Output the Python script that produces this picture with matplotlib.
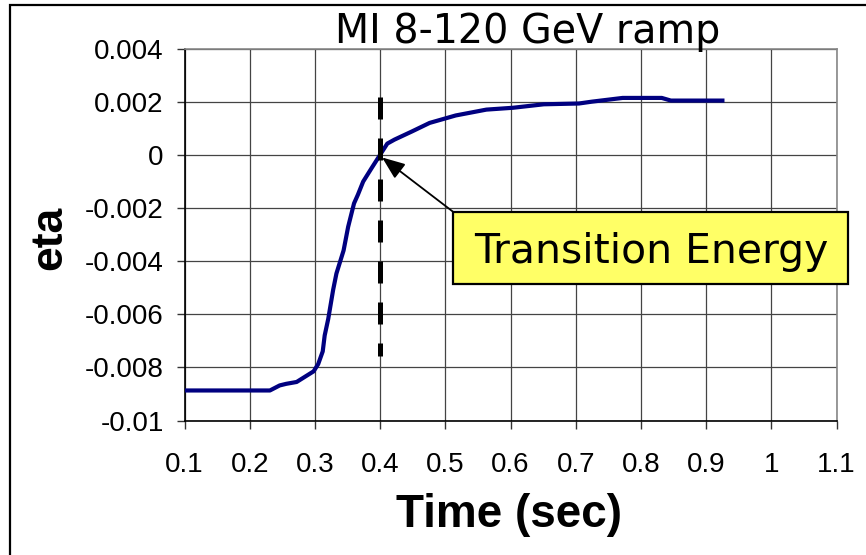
import matplotlib
matplotlib.use("Agg")
import matplotlib.pyplot as plt
from matplotlib.patches import Rectangle

# ---- data ----
time_sec = [0.100, 0.231, 0.246, 0.256, 0.272, 0.298, 0.305, 0.312, 0.315, 0.3205,
            0.328, 0.333, 0.344, 0.351, 0.360, 0.366, 0.374, 0.387, 0.400, 0.411,
            0.422, 0.449, 0.476, 0.516, 0.563, 0.604, 0.651, 0.705, 0.725, 0.772,
            0.832, 0.846, 0.925]
eta = [-0.00887, -0.00887, -0.00868, -0.00862, -0.00855, -0.00815, -0.00788, -0.0074, -0.0068, -0.00617,
       -0.00508, -0.00447, -0.0036, -0.00271, -0.00183, -0.0015, -0.00101, -0.0005, 0.0, 0.00042,
       0.00057, 0.00088, 0.0012, 0.00148, 0.0017, 0.00177, 0.0019, 0.00193, 0.0020, 0.00214,
       0.00214, 0.00204, 0.00204]

transition_time = 0.40
transition_line_eta = [0.00216, -0.00756]
arrow_tip = (0.403, -0.0001)

x_ticks = [0.1, 0.2, 0.3, 0.4, 0.5, 0.6, 0.7, 0.8, 0.9, 1.0, 1.1]
x_tick_labels = ['0.1', '0.2', '0.3', '0.4', '0.5', '0.6', '0.7', '0.8', '0.9', '1', '1.1']
y_ticks = [0.004, 0.002, 0.0, -0.002, -0.004, -0.006, -0.008, -0.01]
y_tick_labels = ['0.004', '0.002', '0', '-0.002', '-0.004', '-0.006', '-0.008', '-0.01']

title_text = 'MI 8-120 GeV ramp'
annot_text = 'Transition Energy'
x_label = 'Time (sec)'
y_label = 'eta'

# ---- figure ----
fig = plt.figure(figsize=(8.66, 5.55), dpi=100)
ax = fig.add_axes([184.5 / 866, 1 - 420.5 / 555, 652 / 866, 372 / 555])

ax.set_xlim(0.1, 1.1)
ax.set_ylim(-0.01, 0.004)
ax.set_xticks(x_ticks)
ax.set_xticklabels(x_tick_labels, fontfamily='Liberation Sans', fontsize=20)
ax.set_yticks(y_ticks)
ax.set_yticklabels(y_tick_labels, fontfamily='Liberation Sans', fontsize=20)
ax.tick_params(axis='both', direction='out', length=6, width=1, color='#333333')
ax.tick_params(axis='x', pad=17)
ax.tick_params(axis='y', pad=9)

ax.grid(True, color='#444444', linewidth=0.9)
ax.set_axisbelow(True)
for s in ['top', 'right']:
    ax.spines[s].set_color('#888888')
    ax.spines[s].set_linewidth(1.2)
for s in ['left', 'bottom']:
    ax.spines[s].set_color('black')
    ax.spines[s].set_linewidth(1.2)

# curve
ax.plot(time_sec, eta, color='#000080', linewidth=3.0, solid_joinstyle='round', zorder=3)

# transition dashed line
ax.plot([transition_time, transition_time], transition_line_eta, color='black',
        linewidth=3.6, linestyle=(0, (4.4, 3.8)), zorder=4)

# annotation box
box = Rectangle((0.412, 0.367), 0.606, 0.194, transform=ax.transAxes,
                facecolor='#FFFF66', edgecolor='black', linewidth=1.6,
                clip_on=False, zorder=5)
ax.add_patch(box)
ax.text(0.716, 0.424, annot_text, transform=ax.transAxes, ha='center', va='baseline',
        fontfamily='DejaVu Sans', fontsize=29.4, zorder=6)
ax.annotate('', xy=arrow_tip, xycoords='data',
            xytext=(0.412, 0.561), textcoords='axes fraction',
            arrowprops=dict(arrowstyle='-|>,head_length=1.4,head_width=0.55',
                            color='black', linewidth=1.3, shrinkA=0, shrinkB=0),
            zorder=6)

# title
ax.text(0.527, 1.014, title_text, transform=ax.transAxes, ha='center', va='baseline',
        fontfamily='DejaVu Sans', fontsize=28.5)

# axis labels
ax.set_xlabel(x_label, fontfamily='Liberation Sans', fontweight='bold', fontsize=33)
ax.xaxis.set_label_coords(0.498, -0.254)
ax.xaxis.label.set_verticalalignment('center')
ax.set_ylabel(y_label, fontfamily='Liberation Sans', fontweight='bold', fontsize=32)
ax.yaxis.set_label_coords(-0.206, 0.49)
ax.yaxis.label.set_verticalalignment('center')

# outer frame (left and top edges visible)
frame = Rectangle((9.5 / 866, -0.1), 1.2, 1.1 - 5 / 555, transform=fig.transFigure,
                  facecolor='none', edgecolor='black', linewidth=1.6)
fig.add_artist(frame)

fig.savefig('out.png', dpi=100)
